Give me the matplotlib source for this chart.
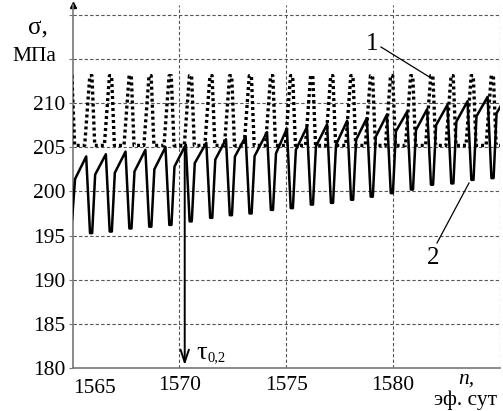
import matplotlib.pyplot as plt

plt.rcParams['font.family'] = ['Liberation Serif', 'DejaVu Serif']

W, H = 503, 411

# центры циклов (эф. сут), по пикам пунктирной кривой
n_cycle = [1564.93, 1565.87, 1566.79, 1567.71, 1568.64, 1569.58, 1570.53, 1571.49,
           1572.41, 1573.33, 1574.33, 1575.26, 1576.20, 1577.14, 1578.08, 1579.00,
           1579.94, 1580.88, 1581.82, 1582.77, 1583.71, 1584.65, 1585.59]

# кривая 2 (сплошная): вершина пилы, минимум, начало подъёма
s_peak = [203.7, 203.95, 204.2, 204.5, 204.7, 205.0, 205.3, 205.5, 205.9, 206.2, 206.7,
          207.1, 207.3, 207.6, 208.0, 208.3, 208.7, 209.0, 209.3, 209.8, 210.2, 210.7, 211.0]
s_min = [196.8, 195.27, 195.45, 195.8, 196.0, 196.2, 196.6, 197.0, 197.3, 197.5, 197.9,
         198.1, 198.5, 198.7, 199.05, 199.4, 199.8, 200.2, 200.75, 200.9, 201.3, 201.5, 201.8]
s_start = [201.4, 201.9, 202.1, 202.25, 202.5, 202.8, 203.2, 203.6, 203.95, 204.0, 204.3,
           204.7, 205.1, 205.3, 205.85, 206.2, 206.8, 206.95, 207.5, 207.9, 208.5, 208.85, 209.2]

# кривая 1 (пунктир): пики и фон
d_top = [213.1, 213.1, 213.1, 213.1, 213.1, 213.1, 213.1, 213.1, 213.1, 213.1, 213.1,
         213.1, 213.1, 213.1, 213.1, 213.1, 213.1, 213.1, 213.1, 213.1, 213.1, 213.1, 213.1]
d_base = 205.2

y_ticks = [180, 185, 190, 195, 200, 205, 210]
x_ticks = [1570, 1575, 1580]
tau_n = 1570.25
tau_top = 205.3


def px(x, y):
    return x / W, 1 - y / H


# строим ломаные по циклам
sx, sy, dx, dy = [], [], [], []
for i, c in enumerate(n_cycle):
    sx += [c - 0.23, c - 0.05, c + 0.05, c + 0.19]
    sy += [s_peak[i], s_min[i], s_min[i], s_start[i]]
    dx += [c - 0.30, c - 0.06, c + 0.04, c + 0.17]
    dy += [d_base, d_top[i], d_top[i], d_base]

fig = plt.figure(figsize=(W / 100, H / 100), dpi=100)
l, b = px(72.5, 368)
r, t = px(500, 5)
ax = fig.add_axes([l, b, r - l, t - b])
ax.set_xlim(1565, 1585)
ax.set_ylim(180, 221.1)

# сетка
for yv in [185, 190, 195, 200, 205, 210, 215, 220]:
    ax.axhline(yv, color='#555555', lw=0.8, ls=(0, (3, 2)), zorder=1)
for xv in [1570, 1575, 1580, 1585]:
    ax.axvline(xv, color='#555555', lw=0.8, ls=(0, (3, 2)), zorder=1)

ax.plot(sx, sy, color='black', lw=1.8, zorder=3)
ax.plot(dx, dy, color='black', lw=2.4, ls=(0, (0.9, 0.9)), zorder=4)

for s in ['top', 'right']:
    ax.spines[s].set_visible(False)
for s in ['left', 'bottom']:
    ax.spines[s].set_color('#777777')
    ax.spines[s].set_linewidth(1.2)
ax.plot([0], [1], marker='^', color='black', ms=5, transform=ax.transAxes, clip_on=False)

ax.set_yticks(y_ticks + [215, 220])
ax.set_yticklabels([str(v) for v in y_ticks] + ['', ''])
ax.tick_params(axis='y', length=3, width=0.8, color='#777777', pad=2, labelsize=15.5)
ax.set_xticks(x_ticks)
ax.set_xticklabels([str(v) for v in x_ticks])
ax.tick_params(axis='x', length=0, pad=6, labelsize=15.5)
ax.text(1565.05, -0.03, '1565', transform=ax.get_xaxis_transform(), ha='left', va='top',
        fontsize=15.5)

# стрелка τ0,2
ax.annotate('', xy=(tau_n, 180), xytext=(tau_n, tau_top),
            arrowprops=dict(arrowstyle='->,head_length=0.9,head_width=0.3', color='black', lw=1.4),
            zorder=5)
fig.text(*px(196, 353), 'τ', fontsize=19, ha='left', va='center')
fig.text(*px(207, 358), '0,2', fontsize=10.5, ha='left', va='center')

# выноски 1 и 2
fig.text(*px(372, 44), '1', fontsize=18, ha='center', va='center')
fig.add_artist(plt.Line2D([px(381, 47)[0], px(431, 78)[0]], [px(381, 47)[1], px(431, 78)[1]],
                          color='black', lw=0.9))
fig.text(*px(433, 258), '2', fontsize=18, ha='center', va='center')
fig.add_artist(plt.Line2D([px(437, 243)[0], px(469, 183)[0]], [px(437, 243)[1], px(469, 183)[1]],
                          color='black', lw=0.9))

# подписи осей
fig.text(*px(38, 28), 'σ,', fontsize=18, ha='center', va='center')
fig.text(*px(34, 56), 'МПа', fontsize=15.5, ha='center', va='center')
fig.text(*px(466, 379), 'n,', fontsize=15.5, style='italic', ha='center', va='center')
fig.text(*px(466, 400), 'эф. сут', fontsize=15.5, ha='center', va='center')

fig.savefig('out.png', dpi=100)
